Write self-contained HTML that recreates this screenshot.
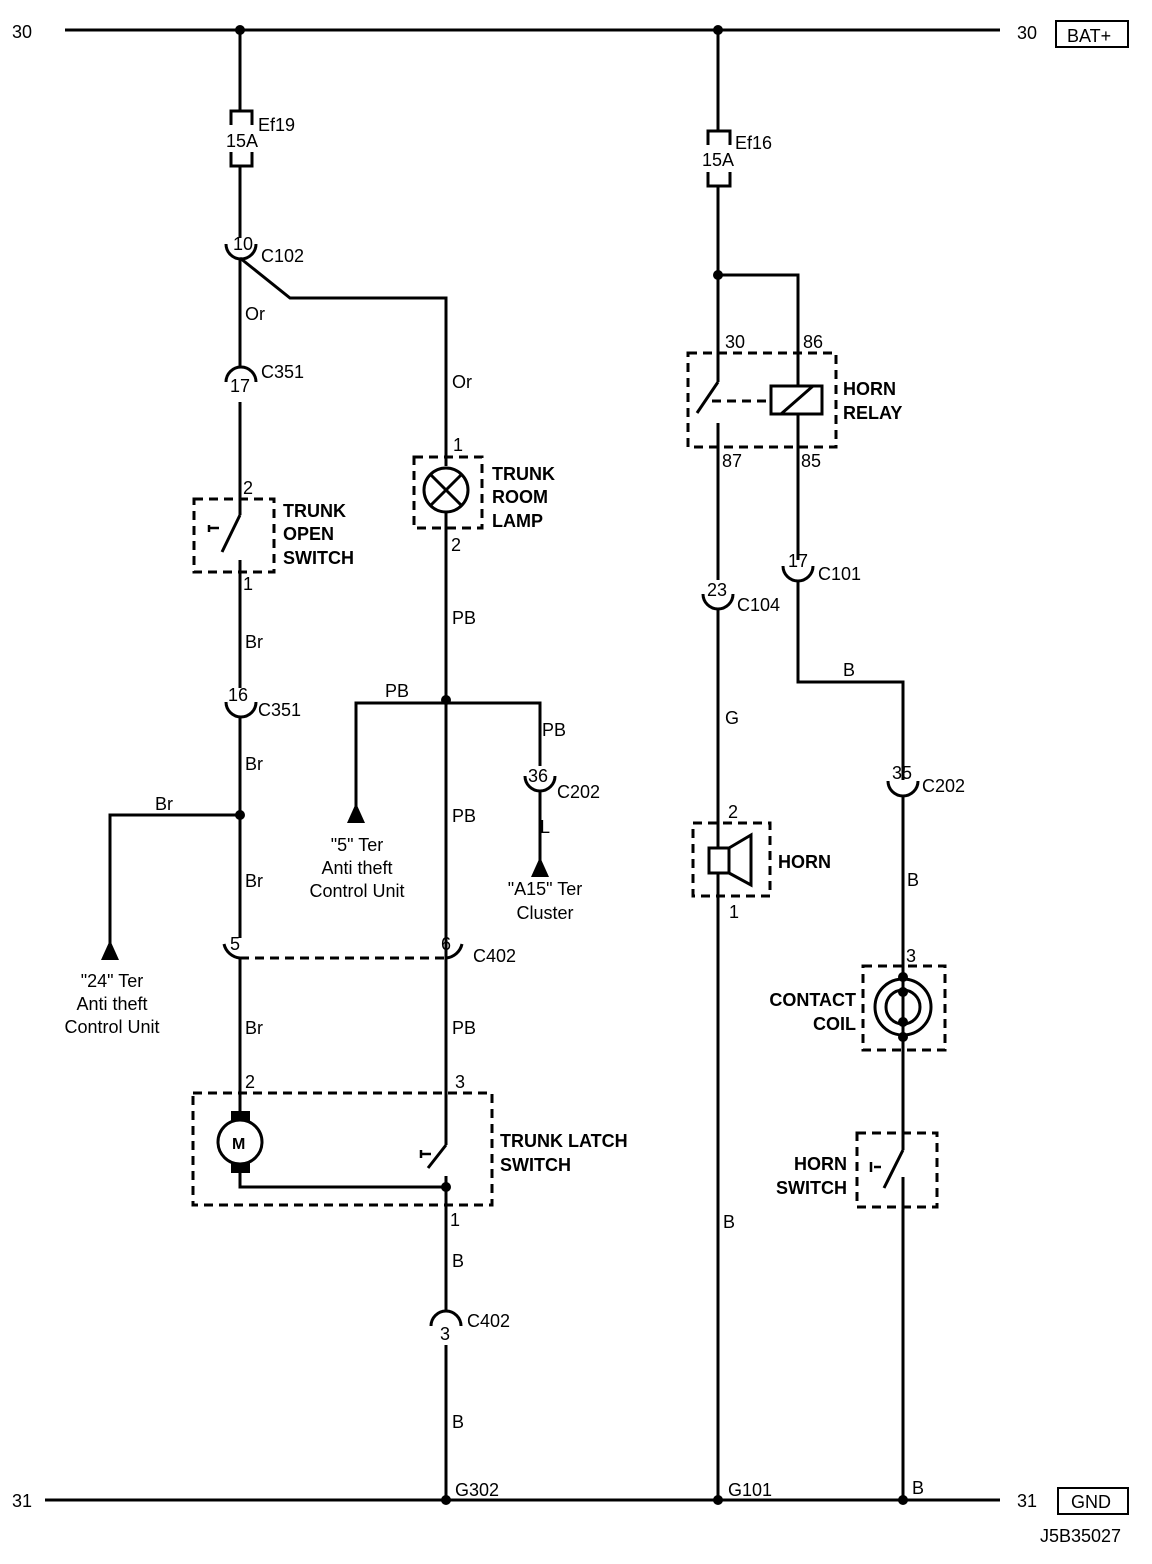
<!DOCTYPE html>
<html><head><meta charset="utf-8"><style>
html,body{margin:0;padding:0;background:#fff;}
svg{display:block;}
text{font-family:"Liberation Sans",Arial,sans-serif;font-size:18px;fill:#000;}
.b{font-weight:bold;}
</style></head><body>
<svg width="1152" height="1564" viewBox="0 0 1152 1564" xmlns="http://www.w3.org/2000/svg">
<g stroke="#000" stroke-width="3" fill="none">
<line x1="65" y1="30" x2="1000" y2="30"/>
<line x1="45" y1="1500" x2="1000" y2="1500"/>
<rect x="1056" y="21" width="72" height="26" stroke-width="2"/>
<rect x="1058" y="1488" width="70" height="26" stroke-width="2"/>

<line x1="240" y1="30" x2="240" y2="111"/>
<path d="M231 125 V111 H252 V125 M231 152 V166 H252 V152"/>
<line x1="240" y1="166" x2="240" y2="238"/>
<path d="M226 244 A15 15 0 0 0 256 244"/>
<path d="M240 258 L290 298 H446 V466"/>
<line x1="240" y1="258" x2="240" y2="368"/>
<path d="M226 382 A15 15 0 0 1 256 382"/>
<line x1="240" y1="402" x2="240" y2="515"/>
<line x1="240" y1="515" x2="222" y2="552"/>
<path d="M209 525 V532 M209 528 H219" stroke-width="2.5"/>
<line x1="240" y1="560" x2="240" y2="688"/>
<path d="M226 702 A15 15 0 0 0 256 702"/>
<line x1="240" y1="716" x2="240" y2="938"/>
<path d="M240 815 H110 V945"/>
<path d="M224 944 A18 18 0 0 0 240 958"/>
<path d="M462 944 A18 18 0 0 1 446 958"/>
<line x1="240" y1="958" x2="240" y2="1112"/>
<path d="M240 1172 V1187 H446"/>
<circle cx="446" cy="490" r="22"/>
<path d="M431 475 L461 505 M461 475 L431 505"/>
<line x1="446" y1="512" x2="446" y2="1145"/>
<path d="M356 810 V703 H540 V766"/>
<path d="M525 776 A15 15 0 0 0 555 776"/>
<line x1="540" y1="790" x2="540" y2="862"/>
<line x1="446" y1="1145" x2="428" y2="1168"/>
<path d="M421 1150 V1158 M421 1154 H431" stroke-width="2.5"/>
<line x1="446" y1="1176" x2="446" y2="1312"/>
<path d="M431 1326 A15 15 0 0 1 461 1326"/>
<line x1="446" y1="1345" x2="446" y2="1500"/>
<circle cx="240" cy="1142" r="22"/>

<line x1="718" y1="30" x2="718" y2="131"/>
<path d="M708 145 V131 H730 V145 M708 172 V186 H730 V172"/>
<line x1="718" y1="186" x2="718" y2="382"/>
<path d="M718 275 H798 V560"/>
<line x1="718" y1="382" x2="697" y2="413"/>
<rect x="771" y="386" width="51" height="28" fill="#fff"/>
<line x1="781" y1="414" x2="813" y2="386"/>
<line x1="718" y1="423" x2="718" y2="580"/>
<path d="M783 566 A15 15 0 0 0 813 566"/>
<path d="M798 580 V682 H903 V780"/>
<path d="M703 594 A15 15 0 0 0 733 594"/>
<line x1="718" y1="608" x2="718" y2="1500"/>
<rect x="709" y="848" width="20" height="25" fill="#fff"/>
<path d="M729 848 L751 835 V885 L729 873"/>
<path d="M888 781 A15 15 0 0 0 918 781"/>
<line x1="903" y1="795" x2="903" y2="1150"/>
<circle cx="903" cy="1007" r="28"/>
<circle cx="903" cy="1007" r="17"/>
<line x1="903" y1="1150" x2="884" y2="1188"/>
<path d="M871 1162 V1172 M874 1167 H881" stroke-width="2.5"/>
<line x1="903" y1="1177" x2="903" y2="1500"/>
</g>
<g stroke="#000" stroke-width="3" fill="none" stroke-dasharray="9,6">
<rect x="194" y="499" width="80" height="73"/>
<rect x="414" y="457" width="68" height="71"/>
<line x1="240" y1="958" x2="446" y2="958"/>
<rect x="193" y="1093" width="299" height="112"/>
<rect x="688" y="353" width="148" height="94"/>
<line x1="712" y1="401" x2="771" y2="401"/>
<rect x="693" y="823" width="77" height="73"/>
<rect x="863" y="966" width="82" height="84"/>
<rect x="857" y="1133" width="80" height="74"/>
</g>
<g fill="#000">
<circle cx="240" cy="30" r="5"/>
<circle cx="718" cy="30" r="5"/>
<circle cx="718" cy="275" r="5"/>
<circle cx="240" cy="815" r="5"/>
<circle cx="446" cy="700" r="5"/>
<circle cx="446" cy="1187" r="5"/>
<circle cx="446" cy="1500" r="5"/>
<circle cx="718" cy="1500" r="5"/>
<circle cx="903" cy="1500" r="5"/>
<circle cx="903" cy="977" r="5"/>
<circle cx="903" cy="992" r="5"/>
<circle cx="903" cy="1022" r="5"/>
<circle cx="903" cy="1037" r="5"/>
<rect x="231" y="1111" width="19" height="10"/>
<rect x="231" y="1163" width="19" height="10"/>
<polygon points="110,940 101,960 119,960"/>
<polygon points="356,803 347,823 365,823"/>
<polygon points="540,857 531,877 549,877"/>
</g>
<text x="12" y="38">30</text>
<text x="1017" y="39">30</text>
<text x="1067" y="42">BAT+</text>
<text x="12" y="1507">31</text>
<text x="1017" y="1507">31</text>
<text x="1071" y="1508">GND</text>
<text x="1040" y="1542">J5B35027</text>
<text x="242" y="147" text-anchor="middle">15A</text>
<text x="258" y="131">Ef19</text>
<text x="233" y="250">10</text>
<text x="261" y="262">C102</text>
<text x="245" y="320">Or</text>
<text x="230" y="392">17</text>
<text x="261" y="378">C351</text>
<text x="243" y="494">2</text>
<text x="243" y="590">1</text>
<text class="b" x="283" y="517">TRUNK</text>
<text class="b" x="283" y="540">OPEN</text>
<text class="b" x="283" y="564">SWITCH</text>
<text x="245" y="648">Br</text>
<text x="228" y="701">16</text>
<text x="258" y="716">C351</text>
<text x="245" y="770">Br</text>
<text x="155" y="810">Br</text>
<text x="245" y="887">Br</text>
<text x="112" y="987" text-anchor="middle">"24" Ter</text>
<text x="112" y="1010" text-anchor="middle">Anti theft</text>
<text x="112" y="1033" text-anchor="middle">Control Unit</text>
<text x="230" y="950">5</text>
<text x="441" y="950">6</text>
<text x="473" y="962">C402</text>
<text x="245" y="1034">Br</text>
<text x="245" y="1088">2</text>
<text class="b" x="232" y="1149" style="font-size:16px">M</text>
<text x="452" y="388">Or</text>
<text x="453" y="451">1</text>
<text x="451" y="551">2</text>
<text class="b" x="492" y="480">TRUNK</text>
<text class="b" x="492" y="503">ROOM</text>
<text class="b" x="492" y="527">LAMP</text>
<text x="452" y="624">PB</text>
<text x="385" y="697">PB</text>
<text x="542" y="736">PB</text>
<text x="528" y="782">36</text>
<text x="557" y="798">C202</text>
<text x="540" y="833">L</text>
<text x="357" y="851" text-anchor="middle">"5" Ter</text>
<text x="357" y="874" text-anchor="middle">Anti theft</text>
<text x="357" y="897" text-anchor="middle">Control Unit</text>
<text x="545" y="895" text-anchor="middle">"A15" Ter</text>
<text x="545" y="919" text-anchor="middle">Cluster</text>
<text x="452" y="822">PB</text>
<text x="452" y="1034">PB</text>
<text x="455" y="1088">3</text>
<text class="b" x="500" y="1147">TRUNK LATCH</text>
<text class="b" x="500" y="1171">SWITCH</text>
<text x="450" y="1226">1</text>
<text x="452" y="1267">B</text>
<text x="440" y="1340">3</text>
<text x="467" y="1327">C402</text>
<text x="452" y="1428">B</text>
<text x="455" y="1496">G302</text>
<text x="718" y="166" text-anchor="middle">15A</text>
<text x="735" y="149">Ef16</text>
<text x="725" y="348">30</text>
<text x="803" y="348">86</text>
<text class="b" x="843" y="395">HORN</text>
<text class="b" x="843" y="419">RELAY</text>
<text x="722" y="467">87</text>
<text x="801" y="467">85</text>
<text x="788" y="567">17</text>
<text x="818" y="580">C101</text>
<text x="707" y="596">23</text>
<text x="737" y="611">C104</text>
<text x="843" y="676">B</text>
<text x="725" y="724">G</text>
<text x="892" y="779">35</text>
<text x="922" y="792">C202</text>
<text x="728" y="818">2</text>
<text class="b" x="778" y="868">HORN</text>
<text x="729" y="918">1</text>
<text x="907" y="886">B</text>
<text x="906" y="962">3</text>
<text class="b" x="856" y="1006" text-anchor="end">CONTACT</text>
<text class="b" x="856" y="1030" text-anchor="end">COIL</text>
<text class="b" x="847" y="1170" text-anchor="end">HORN</text>
<text class="b" x="847" y="1194" text-anchor="end">SWITCH</text>
<text x="723" y="1228">B</text>
<text x="728" y="1496">G101</text>
<text x="912" y="1494">B</text>
</svg>
</body></html>
